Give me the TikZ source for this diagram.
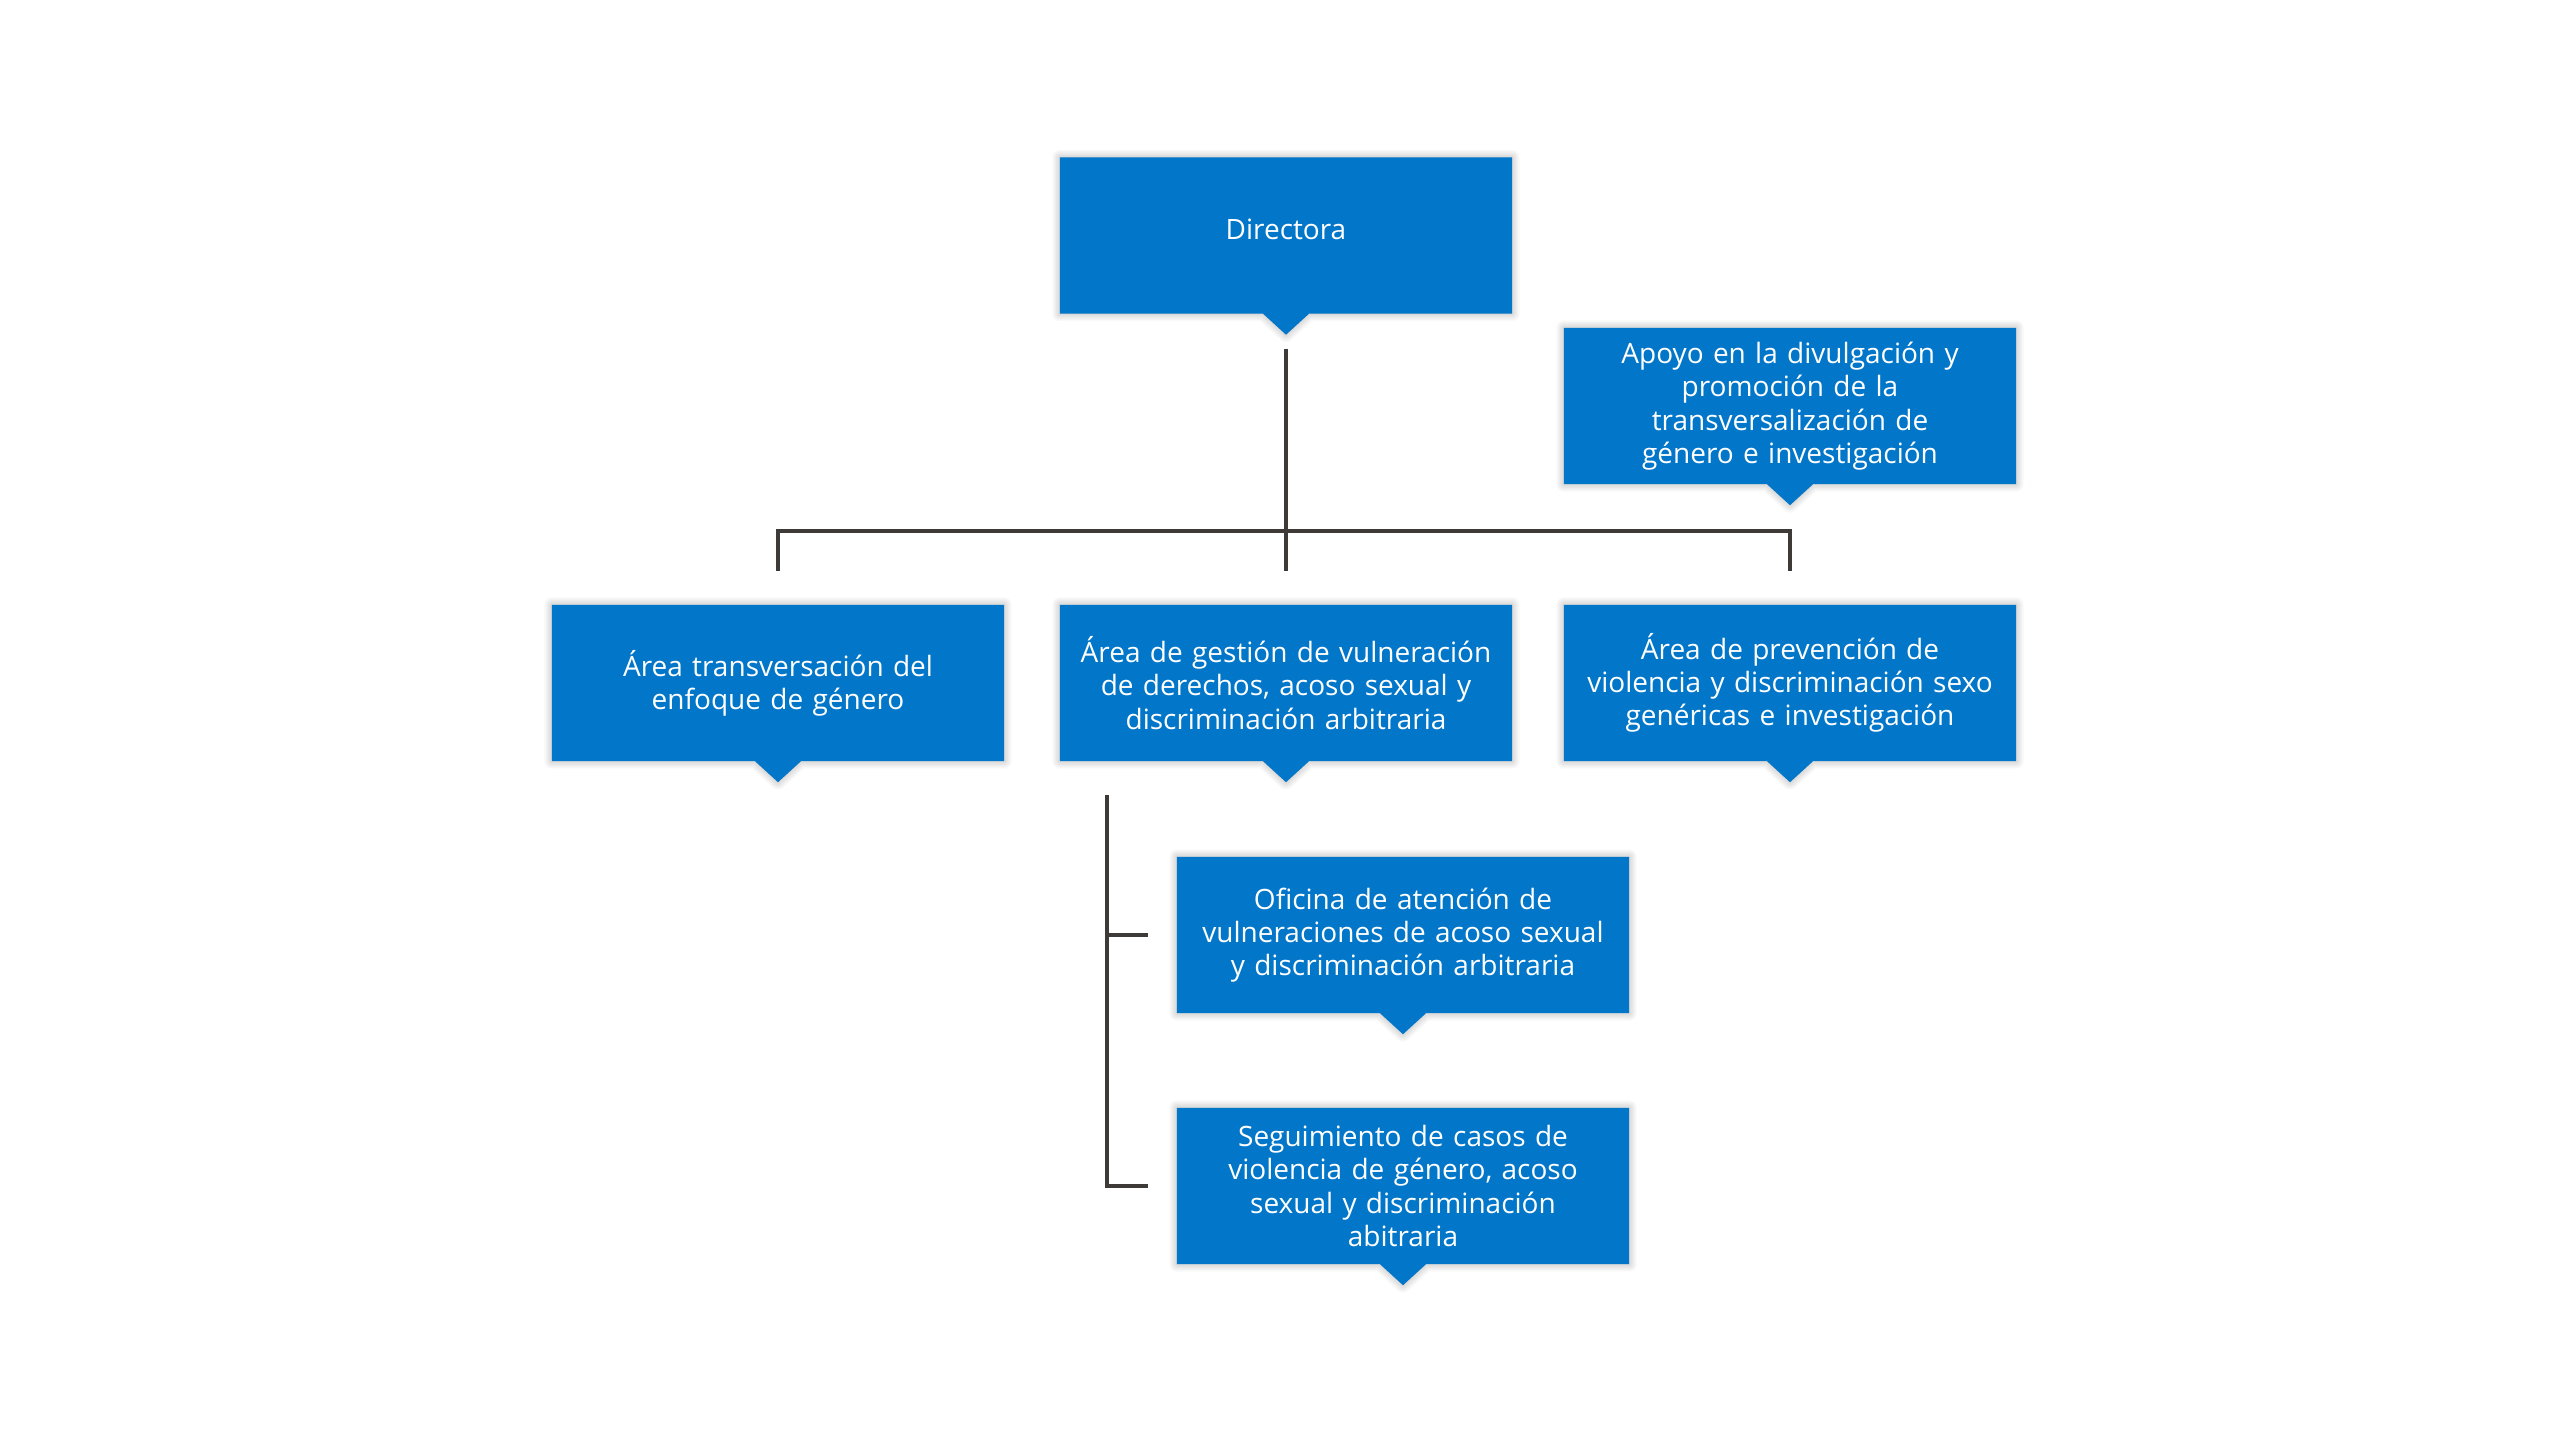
\documentclass[tikz,border=0pt]{standalone}
\usepackage{fontspec}
\setmainfont{Open Sans}
\usetikzlibrary{calc,backgrounds}
\pgfdeclarelayer{bottom}
\pgfdeclarelayer{background}
\pgfsetlayers{bottom,background,main}
\definecolor{boxblue}{HTML}{0276C9}
\definecolor{linegray}{HTML}{3D3A38}
\tikzset{
  orgbox/.style={rectangle, minimum width=452pt, minimum height=156pt, inner sep=0pt,
    text=white, align=center, text width=440pt,
    font=\fontsize{28pt}{33.3pt}\selectfont},
  conn/.style={draw=linegray, line width=3.5pt, line join=miter},
  calloutfill/.style={fill=boxblue},
  softshadow/.style={black, line join=round, opacity=0.025}
}
\newcommand\calloutpath[1]{(#1.north west) -- (#1.north east) -- (#1.south east)
    -- ($(#1.south)+(23,0)$) -- ($(#1.south)+(0,21)$) -- ($(#1.south)+(-23,0)$)
    -- (#1.south west) -- cycle}
\newcommand\calloutbox[1]{%
  \begin{scope}[shift={(10,12)}]
    \fill[softshadow, opacity=0.05] \calloutpath{#1};
    \foreach \w in {2.5,5,7.5,10,12.5,15} {\draw[softshadow, line width=\w pt] \calloutpath{#1};}
  \end{scope}
  \fill[calloutfill] \calloutpath{#1};}
\begin{document}
\begin{tikzpicture}[x=1pt,y=-1pt]
\begin{pgfonlayer}{bottom}
  \fill[white] (0,0) rectangle (2560,1440);
\end{pgfonlayer}
\useasboundingbox (0,0) rectangle (2560,1440);

\node[orgbox, text depth=12pt] (dir) at (1286,235.5) {Directora};
\node[orgbox] (apo) at (1790,406) {Apoyo en la divulgación y\\promoción de la\\transversalización de\\género e investigación};
\node[orgbox] (a1) at (778,683) {Área transversación del\\enfoque de género};
\node[orgbox] (a2) at (1286,683) {Área de gestión de vulneración\\de derechos, acoso sexual y\\discriminación arbitraria};
\node[orgbox] (a3) at (1790,683) {Área de prevención de\\violencia y discriminación sexo\\genéricas e investigación};
\node[orgbox] (ofi) at (1403,935) {Oficina de atención de\\vulneraciones de acoso sexual\\y discriminación arbitraria};
\node[orgbox] (seg) at (1403,1186) {Seguimiento de casos de\\violencia de género, acoso\\sexual y discriminación\\abitraria};

\begin{pgfonlayer}{background}
  \calloutbox{dir}
  \calloutbox{apo}
  \calloutbox{a1}
  \calloutbox{a2}
  \calloutbox{a3}
  \calloutbox{ofi}
  \calloutbox{seg}
\end{pgfonlayer}

% connectors
\draw[conn] ($(dir.south)+(0,35)$) -- ($(a2.north)+(0,-34)$);
\draw[conn] ($(a1.north)+(0,-34)$) -- ++(0,-40) -| ($(a3.north)+(0,-34)$);
\coordinate (subtop) at ($(a2.south)+(-179,34)$);
\draw[conn] (subtop) |- ($(seg.west)+(-29,0)$);
\draw[conn] ($(ofi.west)+(-70,0)$) -- ($(ofi.west)+(-29,0)$);
\end{tikzpicture}
\end{document}
